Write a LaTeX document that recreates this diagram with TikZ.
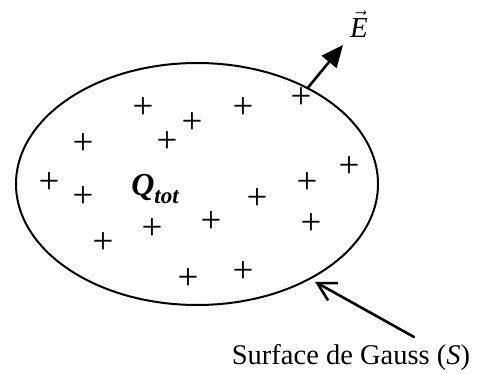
\documentclass[tikz,border=0pt]{standalone}
\usepackage{fontspec}
\setmainfont{Liberation Serif}
\usetikzlibrary{arrows.meta,shapes.geometric}
\tikzset{
  charge/.style={inner sep=0pt, font=\fontsize{37}{40}\selectfont},
  field/.style={line width=2.6pt, -{Triangle[length=22pt,width=19pt]}},
  pointer/.style={line width=2.6pt, -{Straight Barb[length=18pt,width=20pt]}},
}
\begin{document}
\begin{tikzpicture}[x=1pt, y=-1pt, line join=round, line cap=round,
    font=\fontsize{28.5}{34}\selectfont]
  \useasboundingbox (0,0) rectangle (481,374);
  % --- surface -------------------------------------------------
  \node[draw, ellipse, line width=2pt, inner sep=0pt,
        minimum width=362pt, minimum height=242pt] (gauss) at (197,184) {};
  % --- charges -------------------------------------------------
  \foreach \px/\py [count=\i] in {143/108, 243/108, 301/98, 192/123, 167/142,
      83/144, 349/167, 49/183, 83/197, 307/183, 257/199, 211/222, 152/229,
      311/224, 103/243, 243/272, 188/279}
    \node[charge] (q\i) at (\px,\py) {+};
  % --- total charge --------------------------------------------
  \node (qtot) at (155,189)
    {\bfseries\itshape\fontsize{32}{36}\selectfont Q\raisebox{-0.25em}{\fontsize{23}{23}\selectfont tot}};
  % --- field ---------------------------------------------------
  \coordinate (Etip) at (343,45);
  \node[font=\fontsize{29}{34}\selectfont, inner sep=0pt] (Elab) at (359,24) {$\vec{\mbox{\itshape E}}$};
  \draw[field] (gauss.41) -- (Etip);
  % --- label ---------------------------------------------------
  \node (slab) at (351,357) {Surface de Gauss (\textit{S})};
  \coordinate (Stail) at (414,337);
  \draw[pointer, shorten >=5pt] (Stail) -- (gauss.-40);
\end{tikzpicture}
\end{document}
